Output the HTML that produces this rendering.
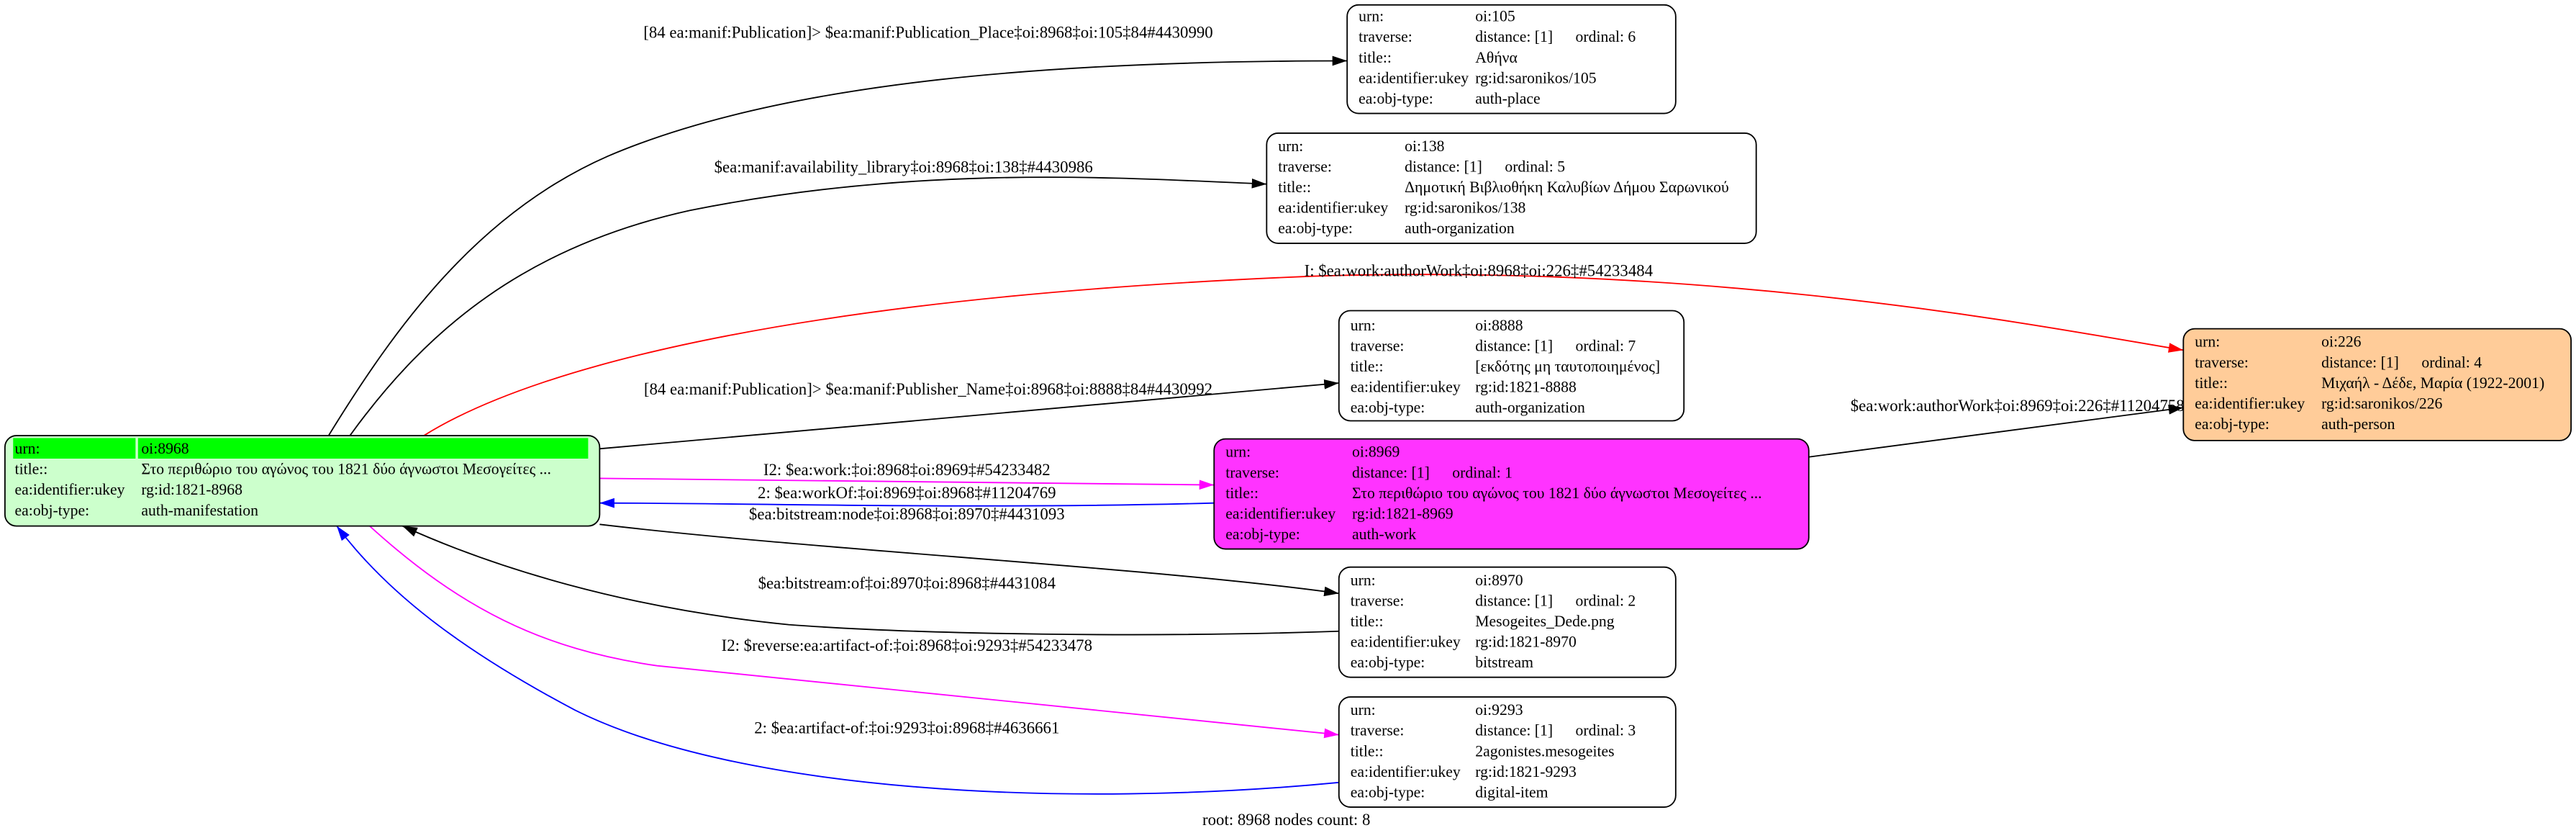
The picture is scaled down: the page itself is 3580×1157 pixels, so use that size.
<!DOCTYPE html>
<html><head><meta charset="utf-8">
<style>
html,body{margin:0;padding:0;background:#fff;}
svg{display:block;}
text{font-family:"Liberation Serif","DejaVu Serif",serif;font-size:9.5px;fill:#000;}
g.lbl text{font-size:10px;}
</style></head>
<body>
<svg width="3580" height="1157" viewBox="0 0 1568 506.75" preserveAspectRatio="none" xmlns="http://www.w3.org/2000/svg">
<defs>
<marker id="ab" markerWidth="9" markerHeight="6" refX="9" refY="3" orient="auto" markerUnits="userSpaceOnUse"><path d="M0,0 L9,3 L0,6z" fill="#000"/></marker>
<marker id="ar" markerWidth="9" markerHeight="6" refX="9" refY="3" orient="auto" markerUnits="userSpaceOnUse"><path d="M0,0 L9,3 L0,6z" fill="#f00"/></marker>
<marker id="am" markerWidth="9" markerHeight="6" refX="9" refY="3" orient="auto" markerUnits="userSpaceOnUse"><path d="M0,0 L9,3 L0,6z" fill="#f0f"/></marker>
<marker id="au" markerWidth="9" markerHeight="6" refX="9" refY="3" orient="auto" markerUnits="userSpaceOnUse"><path d="M0,0 L9,3 L0,6z" fill="#00f"/></marker>
</defs>
<g fill="none" stroke-width="0.8">
<path d="M200,265 C240,200 290,130 370,95 C480,48 650,37 820,37" stroke="#000" marker-end="url(#ab)"/>
<path d="M213,265 C260,200 320,150 420,128 C560,100 680,108 771,112" stroke="#000" marker-end="url(#ab)"/>
<path d="M258,265 C330,220 500,180 800,168 C1050,160 1250,200 1329,213" stroke="#f00" marker-end="url(#ar)"/>
<path d="M365,273 L815,233" stroke="#000" marker-end="url(#ab)"/>
<path d="M1101,278 L1329,248" stroke="#000" marker-end="url(#ab)"/>
<path d="M365,291 L739,295" stroke="#f0f" marker-end="url(#am)"/>
<path d="M739,306 C600,310 450,306 365,306" stroke="#00f" marker-end="url(#au)"/>
<path d="M365,319 C500,335 700,345 815,361" stroke="#000" marker-end="url(#ab)"/>
<path d="M815,384 C700,388 560,386 480,380 C380,370 300,345 245,320" stroke="#000" marker-end="url(#ab)"/>
<path d="M225,320 C280,370 330,395 400,405 C550,420 700,435 815,447" stroke="#f0f" marker-end="url(#am)"/>
<path d="M815,476 C650,492 450,482 350,432 C280,395 235,360 205,320" stroke="#00f" marker-end="url(#au)"/>
</g>
<g class="lbl" text-anchor="middle">
<text x="565" y="23">[84 ea:manif:Publication]&gt; $ea:manif:Publication_Place‡oi:8968‡oi:105‡84#4430990</text>
<text x="550" y="105">$ea:manif:availability_library‡oi:8968‡oi:138‡#4430986</text>
<text x="900" y="168">I: $ea:work:authorWork‡oi:8968‡oi:226‡#54233484</text>
<text x="565" y="240">[84 ea:manif:Publication]&gt; $ea:manif:Publisher_Name‡oi:8968‡oi:8888‡84#4430992</text>
<text x="1228" y="250">$ea:work:authorWork‡oi:8969‡oi:226‡#11204758</text>
<text x="552" y="289">I2: $ea:work:‡oi:8968‡oi:8969‡#54233482</text>
<text x="552" y="303">2: $ea:workOf:‡oi:8969‡oi:8968‡#11204769</text>
<text x="552" y="316">$ea:bitstream:node‡oi:8968‡oi:8970‡#4431093</text>
<text x="552" y="358">$ea:bitstream:of‡oi:8970‡oi:8968‡#4431084</text>
<text x="552" y="396">I2: $reverse:ea:artifact-of:‡oi:8968‡oi:9293‡#54233478</text>
<text x="552" y="446">2: $ea:artifact-of:‡oi:9293‡oi:8968‡#4636661</text>
<text x="783" y="502">root: 8968 nodes count: 8</text>
</g>

<!-- main node -->
<rect x="3" y="265" width="362" height="55" rx="7" fill="#ccffcc" stroke="#000" stroke-width="0.8"/>
<rect x="8" y="266.5" width="74.5" height="12.5" fill="#00ff00"/>
<rect x="84" y="266.5" width="274" height="12.5" fill="#00ff00"/>
<text x="9" y="276">urn:</text><text x="86" y="276">oi:8968</text>
<text x="9" y="288.5">title::</text><text x="86" y="288.5">Στο περιθώριο του αγώνος του 1821 δύο άγνωστοι Μεσογείτες ...</text>
<text x="9" y="301">ea:identifier:ukey</text><text x="86" y="301">rg:id:1821-8968</text>
<text x="9" y="313.5">ea:obj-type:</text><text x="86" y="313.5">auth-manifestation</text>

<!-- 105 -->
<rect x="820" y="3" width="200" height="66" rx="7" fill="#fff" stroke="#000" stroke-width="0.8"/>
<text x="827" y="13">urn:</text><text x="898" y="13">oi:105</text>
<text x="827" y="25.5">traverse:</text><text x="898" y="25.5">distance: [1]</text><text x="959" y="25.5">ordinal: 6</text>
<text x="827" y="38">title::</text><text x="898" y="38">Αθήνα</text>
<text x="827" y="50.5">ea:identifier:ukey</text><text x="898" y="50.5">rg:id:saronikos/105</text>
<text x="827" y="63">ea:obj-type:</text><text x="898" y="63">auth-place</text>

<!-- 138 -->
<rect x="771" y="81" width="298" height="67" rx="7" fill="#fff" stroke="#000" stroke-width="0.8"/>
<text x="778" y="92">urn:</text><text x="855" y="92">oi:138</text>
<text x="778" y="104.5">traverse:</text><text x="855" y="104.5">distance: [1]</text><text x="916" y="104.5">ordinal: 5</text>
<text x="778" y="117">title::</text><text x="855" y="117">Δημοτική Βιβλιοθήκη Καλυβίων Δήμου Σαρωνικού</text>
<text x="778" y="129.5">ea:identifier:ukey</text><text x="855" y="129.5">rg:id:saronikos/138</text>
<text x="778" y="142">ea:obj-type:</text><text x="855" y="142">auth-organization</text>

<!-- 8888 -->
<rect x="815" y="189" width="210" height="67" rx="7" fill="#fff" stroke="#000" stroke-width="0.8"/>
<text x="822" y="201">urn:</text><text x="898" y="201">oi:8888</text>
<text x="822" y="213.5">traverse:</text><text x="898" y="213.5">distance: [1]</text><text x="959" y="213.5">ordinal: 7</text>
<text x="822" y="226">title::</text><text x="898" y="226">[εκδότης μη ταυτοποιημένος]</text>
<text x="822" y="238.5">ea:identifier:ukey</text><text x="898" y="238.5">rg:id:1821-8888</text>
<text x="822" y="251">ea:obj-type:</text><text x="898" y="251">auth-organization</text>

<!-- 226 -->
<rect x="1329" y="200" width="236" height="68" rx="7" fill="#ffcc99" stroke="#000" stroke-width="0.8"/>
<text x="1336" y="211">urn:</text><text x="1413" y="211">oi:226</text>
<text x="1336" y="223.5">traverse:</text><text x="1413" y="223.5">distance: [1]</text><text x="1474" y="223.5">ordinal: 4</text>
<text x="1336" y="236">title::</text><text x="1413" y="236">Μιχαήλ - Δέδε, Μαρία (1922-2001)</text>
<text x="1336" y="248.5">ea:identifier:ukey</text><text x="1413" y="248.5">rg:id:saronikos/226</text>
<text x="1336" y="261">ea:obj-type:</text><text x="1413" y="261">auth-person</text>

<!-- 8969 -->
<rect x="739" y="267" width="362" height="67" rx="7" fill="#ff33ff" stroke="#000" stroke-width="0.8"/>
<text x="746" y="278">urn:</text><text x="823" y="278">oi:8969</text>
<text x="746" y="290.5">traverse:</text><text x="823" y="290.5">distance: [1]</text><text x="884" y="290.5">ordinal: 1</text>
<text x="746" y="303">title::</text><text x="823" y="303">Στο περιθώριο του αγώνος του 1821 δύο άγνωστοι Μεσογείτες ...</text>
<text x="746" y="315.5">ea:identifier:ukey</text><text x="823" y="315.5">rg:id:1821-8969</text>
<text x="746" y="328">ea:obj-type:</text><text x="823" y="328">auth-work</text>

<!-- 8970 -->
<rect x="815" y="345" width="205" height="67" rx="7" fill="#fff" stroke="#000" stroke-width="0.8"/>
<text x="822" y="356">urn:</text><text x="898" y="356">oi:8970</text>
<text x="822" y="368.5">traverse:</text><text x="898" y="368.5">distance: [1]</text><text x="959" y="368.5">ordinal: 2</text>
<text x="822" y="381">title::</text><text x="898" y="381">Mesogeites_Dede.png</text>
<text x="822" y="393.5">ea:identifier:ukey</text><text x="898" y="393.5">rg:id:1821-8970</text>
<text x="822" y="406">ea:obj-type:</text><text x="898" y="406">bitstream</text>

<!-- 9293 -->
<rect x="815" y="424" width="205" height="67" rx="7" fill="#fff" stroke="#000" stroke-width="0.8"/>
<text x="822" y="435">urn:</text><text x="898" y="435">oi:9293</text>
<text x="822" y="447.5">traverse:</text><text x="898" y="447.5">distance: [1]</text><text x="959" y="447.5">ordinal: 3</text>
<text x="822" y="460">title::</text><text x="898" y="460">2agonistes.mesogeites</text>
<text x="822" y="472.5">ea:identifier:ukey</text><text x="898" y="472.5">rg:id:1821-9293</text>
<text x="822" y="485">ea:obj-type:</text><text x="898" y="485">digital-item</text>
</svg>
</body></html>
